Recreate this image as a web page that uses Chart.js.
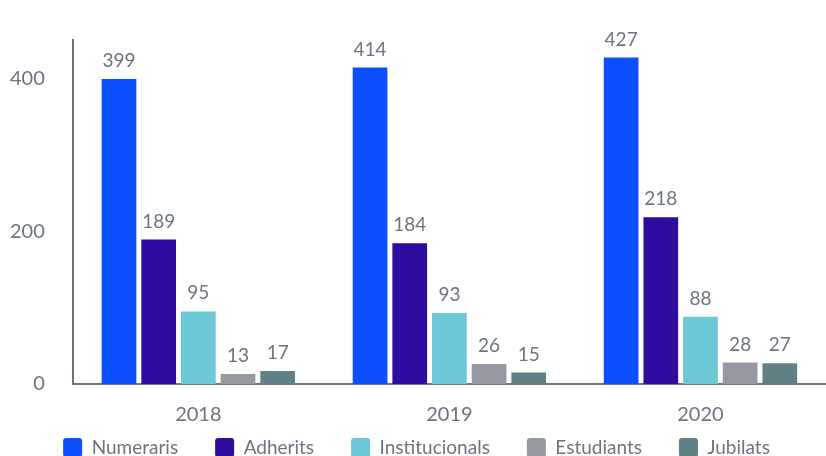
<!DOCTYPE html>
<html>
<head>
<meta charset="utf-8">
<script src="https://cdn.jsdelivr.net/npm/chart.js@4"></script>
<style>
  html, body { margin: 0; padding: 0; background: #fff; }
  #wrap { width: 826px; height: 456px; }
</style>
</head>
<body>
<div id="wrap"><canvas id="chart"></canvas></div>
<script>
const years = ["2018", "2019", "2020"];
const numeraris = [399, 414, 427];
const adherits = [189, 184, 218];
const institucionals = [95, 93, 88];
const estudiants = [13, 26, 28];
const jubilats = [17, 15, 27];
const yTicks = [0, 200, 400];

const textColor = "#6b7480";

// draws the value above each bar
const valueLabels = {
    id: "valueLabels",
    afterDatasetsDraw(chart) {
        const ctx = chart.ctx;
        ctx.save();
        ctx.font = "19px Lato";
        ctx.fillStyle = textColor;
        ctx.textAlign = "center";
        ctx.textBaseline = "alphabetic";
        chart.data.datasets.forEach((ds, i) => {
            chart.getDatasetMeta(i).data.forEach((bar, j) => {
                ctx.fillText(ds.data[j], bar.x, bar.y - 12);
            });
        });
        ctx.restore();
    }
};

// legend keeps wide gaps between items but sits closer to the x labels
const legendShift = {
    id: "legendShift",
    afterLayout(chart) {
        const lg = chart.legend;
        lg.top -= 45;
        lg.bottom -= 45;
        lg.left += 8;
        lg.right += 8;
    }
};

Chart.defaults.font.family = "Lato";
Chart.defaults.font.size = 19;
Chart.defaults.color = textColor;

new Chart(document.getElementById("chart"), {
    type: "bar",
    data: {
        labels: years,
        datasets: [
            { label: "Numeraris", data: numeraris, backgroundColor: "#0b4fff" },
            { label: "Adherits", data: adherits, backgroundColor: "#2f0b9f" },
            { label: "Institucionals", data: institucionals, backgroundColor: "#6cc8d6" },
            { label: "Estudiants", data: estudiants, backgroundColor: "#9698a1" },
            { label: "Jubilats", data: jubilats, backgroundColor: "#608286" }
        ]
    },
    options: {
        responsive: true,
        maintainAspectRatio: false,
        animation: false,
        categoryPercentage: 0.79,
        barPercentage: 0.875,
        layout: { padding: { top: 18, right: -9, left: -18, bottom: -56 } },
        plugins: {
            legend: {
                position: "bottom",
                labels: {
                    font: { size: 19 },
                    boxWidth: 19,
                    boxHeight: 19,
                    padding: 37,
                    useBorderRadius: true,
                    borderRadius: 3
                }
            },
            tooltip: { enabled: false }
        },
        scales: {
            x: {
                grid: { display: false, drawTicks: false },
                border: { display: true, color: "#6b7480", width: 2 },
                ticks: { padding: 19, font: { size: 20 } }
            },
            y: {
                min: 0,
                max: 450,
                grid: { display: false, drawTicks: false },
                border: { display: true, color: "#6b7480", width: 2 },
                afterBuildTicks: (scale) => {
                    scale.ticks = yTicks.map(v => ({ value: v }));
                },
                ticks: { padding: 28, font: { size: 20 } }
            }
        }
    },
    plugins: [valueLabels, legendShift]
});
</script>
</body>
</html>
